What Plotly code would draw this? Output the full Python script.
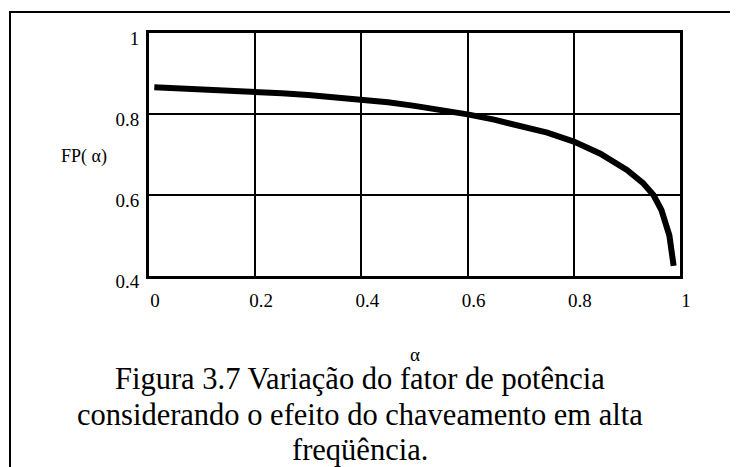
import plotly.graph_objects as go

alpha = [0.01, 0.05, 0.10, 0.15, 0.20, 0.25, 0.30, 0.35, 0.40, 0.45, 0.50, 0.55,
         0.60, 0.65, 0.70, 0.75, 0.80, 0.85, 0.90, 0.93, 0.95, 0.965, 0.98, 0.988]
fp = [0.866, 0.864, 0.862, 0.859, 0.855, 0.851, 0.847, 0.842, 0.836, 0.829, 0.820, 0.810,
      0.799, 0.786, 0.771, 0.754, 0.732, 0.702, 0.662, 0.630, 0.600, 0.563, 0.500, 0.425]

x_ticks = [0, 0.2, 0.4, 0.6, 0.8, 1]
x_labels = ["0", "0.2", "0.4", "0.6", "0.8", "1"]
y_ticks = [0.4, 0.6, 0.8, 1]
y_labels = ["0.4", "0.6", "0.8", "1"]

caption_lines = ["Figura 3.7 Variação do fator de potência",
                 "considerando o efeito do chaveamento em alta",
                 "freqüência."]

SERIF = "Liberation Serif"

# page body has an 8px margin; figure coordinates are reference pixels minus OFF
OFF = 8
W, H = 738 - OFF, 467 - OFF
L, T = 149 - OFF, 33 - OFF
R = W - (680 - OFF)
B = H - (276 - OFF)
pw, ph = W - L - R, H - T - B

def px_x(p):
    return (p - OFF - L) / pw

def px_y(p):
    return (H - B - (p - OFF)) / ph

fig = go.Figure()
fig.add_trace(go.Scatter(x=alpha, y=fp, mode="lines",
                         line=dict(color="black", width=6),
                         hoverinfo="skip", showlegend=False))

annotations = [
    dict(text="FP( α)", xref="paper", yref="paper", x=px_x(84), y=px_y(156),
         showarrow=False, font=dict(family=SERIF, size=18, color="black"),
         xanchor="center", yanchor="middle"),
    dict(text="α", xref="paper", yref="paper", x=px_x(415), y=px_y(354),
         showarrow=False, font=dict(family=SERIF, size=19, color="black"),
         xanchor="center", yanchor="middle"),
]
for i, line in enumerate(caption_lines):
    annotations.append(dict(text=line, xref="paper", yref="paper",
                            x=px_x(360), y=px_y(379 + 35.5 * i),
                            showarrow=False,
                            font=dict(family=SERIF, size=30.5, color="black"),
                            xanchor="center", yanchor="middle"))

fig.update_layout(
    width=W, height=H,
    margin=dict(l=L, r=R, t=T, b=B, autoexpand=False),
    paper_bgcolor="white", plot_bgcolor="white",
    font=dict(family=SERIF, color="black", size=19),
    xaxis=dict(range=[0, 1], tickvals=x_ticks, ticktext=x_labels,
               showgrid=True, gridcolor="black", gridwidth=2,
               showline=True, linecolor="black", linewidth=3, mirror=True,
               zeroline=False, ticks="", ticklabelstandoff=5, ticklabelshift=6,
               tickfont=dict(family=SERIF, size=19, color="black")),
    yaxis=dict(range=[0.4, 1], tickvals=y_ticks, ticktext=y_labels,
               showgrid=True, gridcolor="black", gridwidth=2,
               showline=True, linecolor="black", linewidth=3, mirror=True,
               zeroline=False, ticks="", ticklabelstandoff=3, ticklabelshift=5,
               tickfont=dict(family=SERIF, size=19, color="black")),
    shapes=[dict(type="rect", xref="paper", yref="paper",
                 x0=px_x(10), x1=px_x(780), y0=px_y(500), y1=px_y(12),
                 line=dict(color="black", width=2), layer="above")],
    annotations=annotations,
)

fig.write_html("out.html")
